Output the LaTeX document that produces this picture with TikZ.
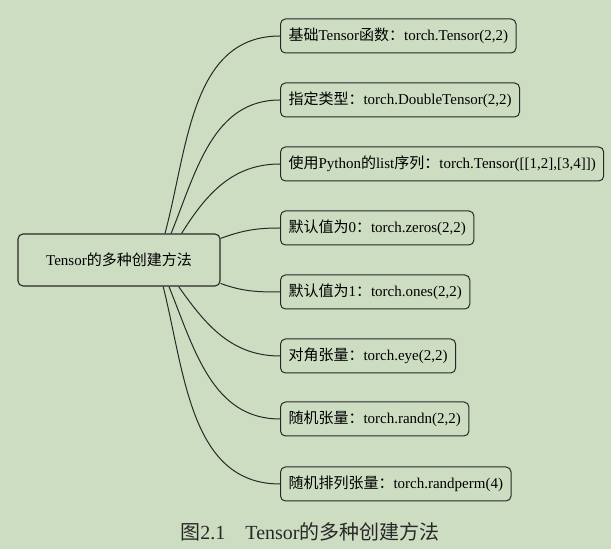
\documentclass[tikz,border=0pt]{standalone}
\usepackage{fontspec}
\setmainfont{Liberation Serif}
\newfontfamily\cjk{Noto Sans CJK SC}
\definecolor{paper}{RGB}{205,221,194}
\definecolor{ink}{RGB}{40,40,40}

\begin{document}
\begin{tikzpicture}[x=1pt,y=1pt]
\tikzstyle{root}=[draw=ink, line width=1.1pt, rounded corners=5pt, minimum width=202pt, minimum height=52pt, inner sep=0pt, font=\fontsize{15}{18}\selectfont]
\tikzstyle{leaf}=[draw=ink, line width=1pt, rounded corners=5pt, anchor=west, minimum height=34pt, inner xsep=8pt, inner ysep=0pt, font=\fontsize{15}{17}\selectfont]
\tikzstyle{branch}=[draw=ink, line width=1pt]

\fill[paper] (0,0) rectangle (611,549);
\useasboundingbox (0,0) rectangle (611,549);

\node[root] (root) at (119,289) {Tensor{\cjk 的多种创建方法}};

\node[leaf] (m1) at (280,513) {{\cjk 基础}Tensor{\cjk 函数：}torch.Tensor(2,2)};
\node[leaf] (m2) at (280,449) {{\cjk 指定类型：}torch.DoubleTensor(2,2)};
\node[leaf] (m3) at (280,385) {{\cjk 使用}Python{\cjk 的}list{\cjk 序列：}torch.Tensor([[1,2],[3,4]])};
\node[leaf] (m4) at (280,321) {{\cjk 默认值为}0{\cjk ：}torch.zeros(2,2)};
\node[leaf] (m5) at (280,257) {{\cjk 默认值为}1{\cjk ：}torch.ones(2,2)};
\node[leaf] (m6) at (280,193) {{\cjk 对角张量：}torch.eye(2,2)};
\node[leaf] (m7) at (280,130) {{\cjk 随机张量：}torch.randn(2,2)};
\node[leaf] (m8) at (280,65) {{\cjk 随机排列张量：}torch.randperm(4)};

\foreach \a/\o/\n in {30/75/m1, 27/68/m2, 23/58/m3, 12/20/m4, -13/-20/m5, -24/-55/m6, -28/-68/m7, -31/-76/m8} {
\draw[branch] (root.\a) to [out=\o, in=180] (\n.west);
}

\node[text=ink, font=\fontsize{20}{24}\selectfont] (caption) at (310,17) {{\cjk 图}2.1\quad Tensor{\cjk 的多种创建方法}};

\end{tikzpicture}
\end{document}
